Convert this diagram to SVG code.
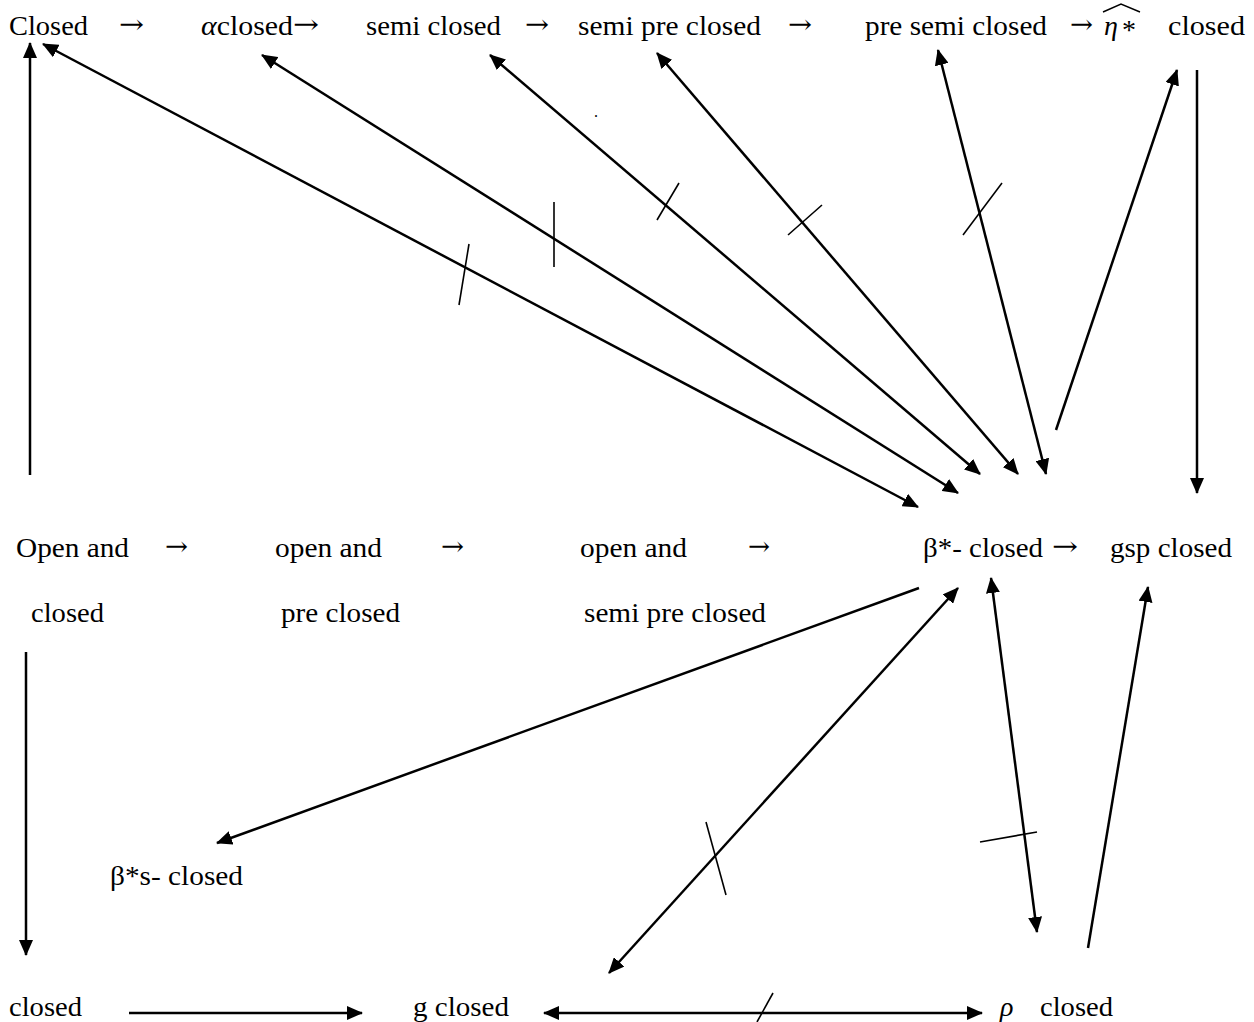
<svg xmlns="http://www.w3.org/2000/svg" width="1254" height="1022" viewBox="0 0 1254 1022">
<style>
text{font-family:"Liberation Serif","Times New Roman",serif;font-size:28px;fill:#000}
.i{font-style:italic}
.ar{font-family:"DejaVu Serif","Liberation Serif",serif;font-size:26px}
#connectors line{stroke:#000;stroke-width:2.5;fill:none}
#connectors line.tick{stroke-width:1.6}
</style>
<defs>
<marker id="ah" viewBox="0 0 16 14" refX="15" refY="7" markerWidth="16" markerHeight="14" markerUnits="userSpaceOnUse" orient="auto-start-reverse">
<path d="M0,0 L16,7 L0,14 z" fill="#000"/>
</marker>
</defs>
<rect width="1254" height="1022" fill="#fff"/>

<g id="n-closed-top"><text x="9" y="35" textLength="79" lengthAdjust="spacingAndGlyphs">Closed</text></g>
<g id="a1"><text class="ar" x="119" y="33" textLength="25" lengthAdjust="spacingAndGlyphs">→</text></g>
<g id="n-alpha"><text x="201" y="35" textLength="92" lengthAdjust="spacingAndGlyphs"><tspan class="i">α</tspan>closed</text><text class="ar" x="293" y="33" textLength="26" lengthAdjust="spacingAndGlyphs">→</text></g>
<g id="n-semi"><text x="366" y="35" textLength="135" lengthAdjust="spacingAndGlyphs">semi closed</text></g>
<g id="a2"><text class="ar" x="525" y="33" textLength="24" lengthAdjust="spacingAndGlyphs">→</text></g>
<g id="n-semipre"><text x="578" y="35" textLength="183" lengthAdjust="spacingAndGlyphs">semi pre closed</text></g>
<g id="a3"><text class="ar" x="788" y="33" textLength="24" lengthAdjust="spacingAndGlyphs">→</text></g>
<g id="n-presemi"><text x="865" y="35" textLength="182" lengthAdjust="spacingAndGlyphs">pre semi closed</text></g>
<g id="a4"><text class="ar" x="1070" y="33" textLength="23" lengthAdjust="spacingAndGlyphs">→</text></g>
<g id="n-eta">
<text x="1104" y="35" class="i">η</text>
<text x="1122" y="39">*</text>
<path d="M1103,12 L1121,4 L1140,12" fill="none" stroke="#000" stroke-width="1.4"/>
<text x="1168" y="35" textLength="77" lengthAdjust="spacingAndGlyphs">closed</text>
</g>

<g id="n-open-closed">
<text x="16" y="557" textLength="113" lengthAdjust="spacingAndGlyphs">Open and</text>
<text x="31" y="622" textLength="73" lengthAdjust="spacingAndGlyphs">closed</text>
</g>
<g id="a5"><text class="ar" x="165" y="555" textLength="23" lengthAdjust="spacingAndGlyphs">→</text></g>
<g id="n-open-pre">
<text x="275" y="557" textLength="107" lengthAdjust="spacingAndGlyphs">open and</text>
<text x="281" y="622" textLength="119" lengthAdjust="spacingAndGlyphs">pre closed</text>
</g>
<g id="a6"><text class="ar" x="441" y="555" textLength="23" lengthAdjust="spacingAndGlyphs">→</text></g>
<g id="n-open-semipre">
<text x="580" y="557" textLength="107" lengthAdjust="spacingAndGlyphs">open and</text>
<text x="584" y="622" textLength="182" lengthAdjust="spacingAndGlyphs">semi pre closed</text>
</g>
<g id="a7"><text class="ar" x="748" y="555" textLength="22" lengthAdjust="spacingAndGlyphs">→</text></g>
<g id="n-beta"><text x="923" y="557" textLength="120" lengthAdjust="spacingAndGlyphs">β*- closed</text></g>
<g id="a8"><text class="ar" x="1052" y="555" textLength="26" lengthAdjust="spacingAndGlyphs">→</text></g>
<g id="n-gsp"><text x="1110" y="557" textLength="122" lengthAdjust="spacingAndGlyphs">gsp closed</text></g>

<g id="n-betas"><text x="110" y="885" textLength="133" lengthAdjust="spacingAndGlyphs">β*s- closed</text></g>

<g id="n-closed-bottom"><text x="9" y="1016" textLength="73" lengthAdjust="spacingAndGlyphs">closed</text></g>
<g id="n-g"><text x="413" y="1016" textLength="96" lengthAdjust="spacingAndGlyphs">g closed</text></g>
<g id="n-rho"><text x="1000" y="1016" class="i">ρ</text><text x="1040" y="1016" textLength="73" lengthAdjust="spacingAndGlyphs">closed</text></g>

<text x="594" y="117" style="font-size:16px">.</text>

<g id="connectors">
<line x1="30" y1="475" x2="30" y2="43" marker-end="url(#ah)"/>
<line x1="43" y1="44" x2="918" y2="507" marker-start="url(#ah)" marker-end="url(#ah)"/>
<line class="tick" x1="459" y1="305" x2="469" y2="244"/>
<line x1="262" y1="55" x2="958" y2="493" marker-start="url(#ah)" marker-end="url(#ah)"/>
<line class="tick" x1="554" y1="202" x2="554" y2="267"/>
<line x1="490" y1="55" x2="980" y2="474" marker-start="url(#ah)" marker-end="url(#ah)"/>
<line class="tick" x1="657" y1="220" x2="679" y2="183"/>
<line x1="657" y1="53" x2="1018" y2="474" marker-start="url(#ah)" marker-end="url(#ah)"/>
<line class="tick" x1="788" y1="235" x2="822" y2="205"/>
<line x1="938" y1="50" x2="1046" y2="474" marker-start="url(#ah)" marker-end="url(#ah)"/>
<line class="tick" x1="963" y1="235" x2="1002" y2="183"/>
<line x1="1056" y1="430" x2="1177" y2="70" marker-end="url(#ah)"/>
<line x1="1197" y1="70" x2="1197" y2="493" marker-end="url(#ah)"/>
<line x1="26" y1="652" x2="26" y2="955" marker-end="url(#ah)"/>
<line x1="129" y1="1013" x2="362" y2="1013" marker-end="url(#ah)"/>
<line x1="544" y1="1013" x2="982" y2="1013" marker-start="url(#ah)" marker-end="url(#ah)"/>
<line class="tick" x1="757" y1="1022" x2="773" y2="993"/>
<line x1="919" y1="588" x2="217" y2="843" marker-end="url(#ah)"/>
<line x1="609" y1="973" x2="958" y2="588" marker-start="url(#ah)" marker-end="url(#ah)"/>
<line class="tick" x1="706" y1="822" x2="726" y2="895"/>
<line x1="991" y1="578" x2="1037" y2="932" marker-start="url(#ah)" marker-end="url(#ah)"/>
<line class="tick" x1="980" y1="842" x2="1037" y2="832"/>
<line x1="1088" y1="948" x2="1148" y2="587" marker-end="url(#ah)"/>
</g>
</svg>
